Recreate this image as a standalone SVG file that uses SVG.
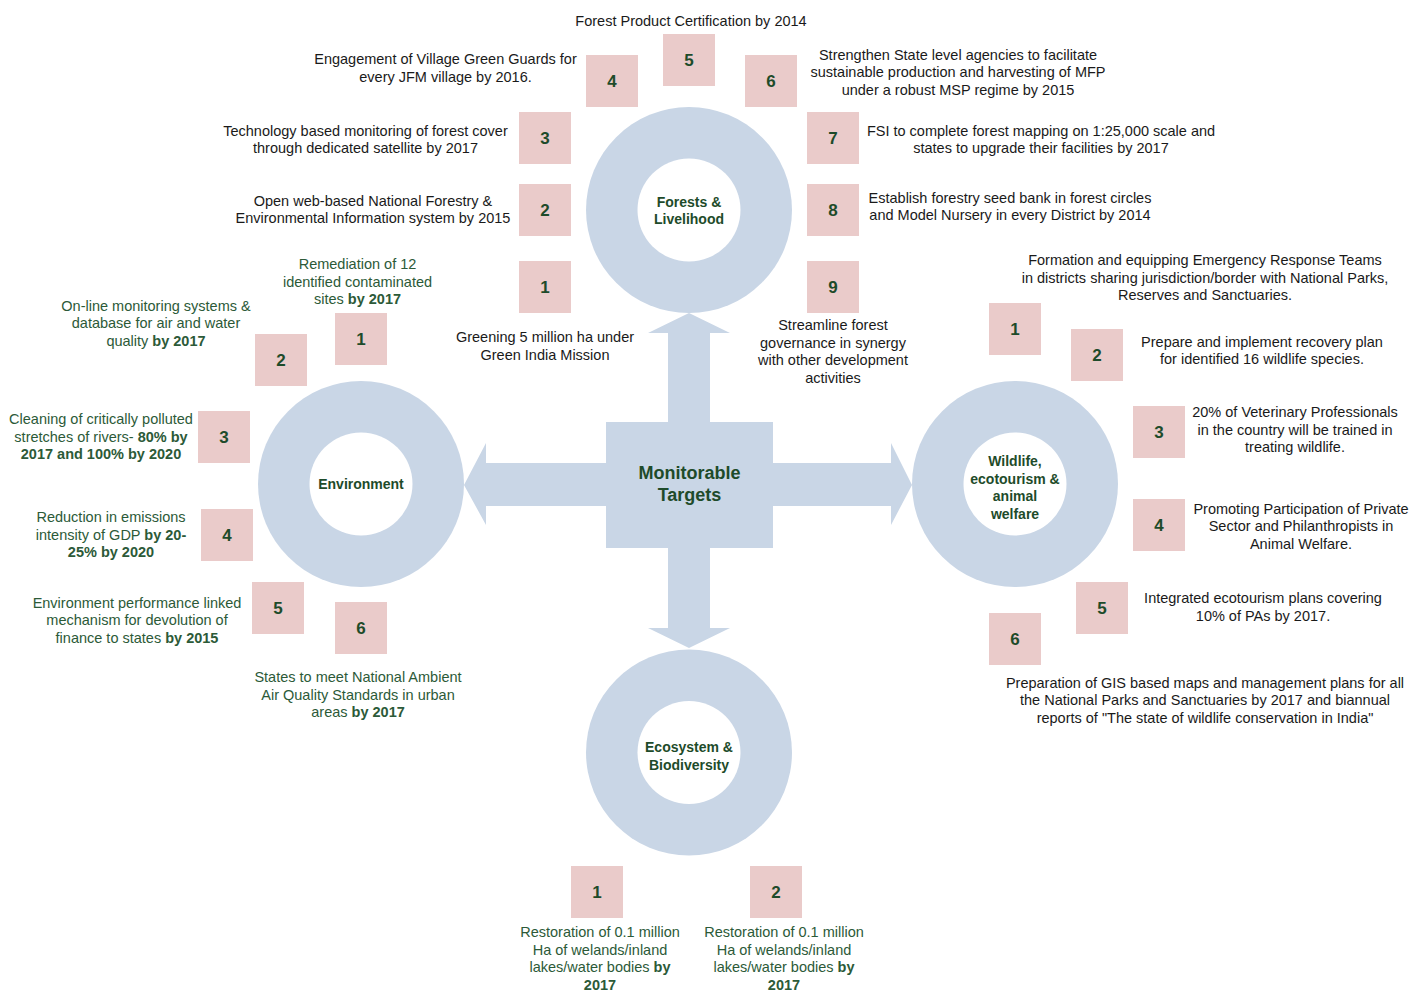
<svg xmlns="http://www.w3.org/2000/svg" width="1410" height="991" viewBox="0 0 1410 991">
<style>
text{font-family:"Liberation Sans",Arial,sans-serif;}
.t{font-size:14.5px;fill:#1a1a1a;text-anchor:middle;}
.g{font-size:14.5px;fill:#2c5a38;text-anchor:middle;}
.b{font-weight:bold;}
.lbl{font-size:14px;font-weight:bold;fill:#1e4b2a;text-anchor:middle;}
.num{font-size:17px;font-weight:bold;fill:#1e4b2a;text-anchor:middle;}
.box{fill:#eacbca;}
.ring{fill:#c9d6e6;}
.hole{fill:#ffffff;}
.arr{fill:#c9d6e6;}
</style>
<rect width="1410" height="991" fill="#ffffff"/>

<g id="connectors">
<polygon class="arr" points="668,422 668,333 648,333 689,313 730,333 710,333 710,422"/>
<polygon class="arr" points="668,548 668,628 648,628 689,648 730,628 710,628 710,548"/>
<polygon class="arr" points="773,463 891,463 891,443 912,485 891,525 891,506 773,506"/>
<polygon class="arr" points="606,463 486,463 486,443 464,485 486,525 486,506 606,506"/>
</g>

<g id="center">
<rect x="606" y="422" width="167" height="126" fill="#c9d6e6"/>
<text x="689.5" y="479" style="font-size:18px;font-weight:bold;fill:#1e4b2a;text-anchor:middle">Monitorable</text>
<text x="689.5" y="501" style="font-size:18px;font-weight:bold;fill:#1e4b2a;text-anchor:middle">Targets</text>
</g>

<g id="forests">
<circle class="ring" cx="689" cy="210" r="103"/>
<circle class="hole" cx="689" cy="210" r="51.5"/>
<text class="lbl" x="689" y="207">Forests &amp;</text>
<text class="lbl" x="689" y="224">Livelihood</text>
</g>
<g id="forest-targets">
<g id="f1"><rect class="box" x="519" y="261" width="52" height="52"/><text class="num" x="545" y="293">1</text>
<text class="t" x="545" y="342">Greening 5 million ha under</text><text class="t" x="545" y="360">Green India Mission</text></g>
<g id="f2"><rect class="box" x="519" y="184" width="52" height="52"/><text class="num" x="545" y="216">2</text>
<text class="t" x="373" y="206">Open web-based National Forestry &amp;</text><text class="t" x="373" y="223">Environmental Information system by 2015</text></g>
<g id="f3"><rect class="box" x="519" y="112" width="52" height="52"/><text class="num" x="545" y="144">3</text>
<text class="t" x="365.5" y="136">Technology based monitoring of forest cover</text><text class="t" x="365.5" y="153">through dedicated satellite by 2017</text></g>
<g id="f4"><rect class="box" x="586" y="55" width="52" height="52"/><text class="num" x="612" y="87">4</text>
<text class="t" x="445.5" y="64">Engagement of Village Green Guards for</text><text class="t" x="445.5" y="82">every JFM village by 2016.</text></g>
<g id="f5"><rect class="box" x="663" y="34" width="52" height="52"/><text class="num" x="689" y="66">5</text>
<text class="t" x="691" y="26">Forest Product Certification by 2014</text></g>
<g id="f6"><rect class="box" x="745" y="55" width="52" height="52"/><text class="num" x="771" y="87">6</text>
<text class="t" x="958" y="60">Strengthen State level agencies to facilitate</text><text class="t" x="958" y="77">sustainable production and harvesting of MFP</text><text class="t" x="958" y="95">under a robust MSP regime by 2015</text></g>
<g id="f7"><rect class="box" x="807" y="112" width="52" height="52"/><text class="num" x="833" y="144">7</text>
<text class="t" x="1041" y="136">FSI to complete forest mapping on 1:25,000 scale and</text><text class="t" x="1041" y="153">states to upgrade their facilities by 2017</text></g>
<g id="f8"><rect class="box" x="807" y="184" width="52" height="52"/><text class="num" x="833" y="216">8</text>
<text class="t" x="1010" y="203">Establish forestry seed bank in forest circles</text><text class="t" x="1010" y="220">and Model Nursery in every District by 2014</text></g>
<g id="f9"><rect class="box" x="807" y="261" width="52" height="52"/><text class="num" x="833" y="293">9</text>
<text class="t" x="833" y="330">Streamline forest</text><text class="t" x="833" y="348">governance in synergy</text><text class="t" x="833" y="365">with other development</text><text class="t" x="833" y="383">activities</text></g>
</g>

<g id="environment">
<circle class="ring" cx="361" cy="484" r="103"/>
<circle class="hole" cx="361" cy="484" r="51.5"/>
<text class="lbl" x="361" y="489">Environment</text>
</g>
<g id="env-targets">
<g id="e1"><rect class="box" x="335" y="313" width="52" height="52"/><text class="num" x="361" y="345">1</text>
<text class="g" x="357.5" y="269">Remediation of 12</text><text class="g" x="357.5" y="287">identified contaminated</text><text class="g" x="357.5" y="304">sites <tspan class="b">by 2017</tspan></text></g>
<g id="e2"><rect class="box" x="255" y="334" width="52" height="52"/><text class="num" x="281" y="366">2</text>
<text class="g" x="156" y="311">On-line monitoring systems &amp;</text><text class="g" x="156" y="328">database for air and water</text><text class="g" x="156" y="346">quality <tspan class="b">by 2017</tspan></text></g>
<g id="e3"><rect class="box" x="198" y="411" width="52" height="52"/><text class="num" x="224" y="443">3</text>
<text class="g" x="101" y="424">Cleaning of critically polluted</text><text class="g" x="101" y="442">stretches of rivers- <tspan class="b">80% by</tspan></text><text class="g b" x="101" y="459">2017 and 100% by 2020</text></g>
<g id="e4"><rect class="box" x="201" y="509" width="52" height="52"/><text class="num" x="227" y="541">4</text>
<text class="g" x="111" y="522">Reduction in emissions</text><text class="g" x="111" y="540">intensity of GDP <tspan class="b">by 20-</tspan></text><text class="g b" x="111" y="557">25% by 2020</text></g>
<g id="e5"><rect class="box" x="252" y="582" width="52" height="52"/><text class="num" x="278" y="614">5</text>
<text class="g" x="137" y="608">Environment performance linked</text><text class="g" x="137" y="625">mechanism for devolution of</text><text class="g" x="137" y="643">finance to states <tspan class="b">by 2015</tspan></text></g>
<g id="e6"><rect class="box" x="335" y="602" width="52" height="52"/><text class="num" x="361" y="634">6</text>
<text class="g" x="358" y="682">States to meet National Ambient</text><text class="g" x="358" y="700">Air Quality Standards in urban</text><text class="g" x="358" y="717">areas <tspan class="b">by 2017</tspan></text></g>
</g>

<g id="wildlife">
<circle class="ring" cx="1015" cy="484" r="103"/>
<circle class="hole" cx="1015" cy="484" r="51.5"/>
<text class="lbl" x="1015" y="466">Wildlife,</text>
<text class="lbl" x="1015" y="484">ecotourism &amp;</text>
<text class="lbl" x="1015" y="501">animal</text>
<text class="lbl" x="1015" y="519">welfare</text>
</g>
<g id="wildlife-targets">
<g id="w1"><rect class="box" x="989" y="303" width="52" height="52"/><text class="num" x="1015" y="335">1</text>
<text class="t" x="1205" y="265">Formation and equipping Emergency Response Teams</text><text class="t" x="1205" y="283">in districts sharing jurisdiction/border with National Parks,</text><text class="t" x="1205" y="300">Reserves and Sanctuaries.</text></g>
<g id="w2"><rect class="box" x="1071" y="329" width="52" height="52"/><text class="num" x="1097" y="361">2</text>
<text class="t" x="1262" y="347">Prepare and implement recovery plan</text><text class="t" x="1262" y="364">for identified 16 wildlife species.</text></g>
<g id="w3"><rect class="box" x="1133" y="406" width="52" height="52"/><text class="num" x="1159" y="438">3</text>
<text class="t" x="1295" y="417">20% of Veterinary Professionals</text><text class="t" x="1295" y="435">in the country will be trained in</text><text class="t" x="1295" y="452">treating wildlife.</text></g>
<g id="w4"><rect class="box" x="1133" y="499" width="52" height="52"/><text class="num" x="1159" y="531">4</text>
<text class="t" x="1301" y="514">Promoting Participation of Private</text><text class="t" x="1301" y="531">Sector and Philanthropists in</text><text class="t" x="1301" y="549">Animal Welfare.</text></g>
<g id="w5"><rect class="box" x="1076" y="582" width="52" height="52"/><text class="num" x="1102" y="614">5</text>
<text class="t" x="1263" y="603">Integrated ecotourism plans covering</text><text class="t" x="1263" y="621">10% of PAs by 2017.</text></g>
<g id="w6"><rect class="box" x="989" y="613" width="52" height="52"/><text class="num" x="1015" y="645">6</text>
<text class="t" x="1205" y="688">Preparation of GIS based maps and management plans for all</text><text class="t" x="1205" y="705">the National Parks and Sanctuaries by 2017 and biannual</text><text class="t" x="1205" y="723">reports of "The state of wildlife conservation in India"</text></g>
</g>

<g id="ecosystem">
<circle class="ring" cx="689" cy="752.5" r="103"/>
<circle class="hole" cx="689" cy="752.5" r="51.5"/>
<text class="lbl" x="689" y="752">Ecosystem &amp;</text>
<text class="lbl" x="689" y="770">Biodiversity</text>
</g>
<g id="eco-targets">
<g id="b1"><rect class="box" x="571" y="866" width="52" height="52"/><text class="num" x="597" y="898">1</text>
<text class="g" x="600" y="937">Restoration of 0.1 million</text><text class="g" x="600" y="955">Ha of welands/inland</text><text class="g" x="600" y="972">lakes/water bodies <tspan class="b">by</tspan></text><text class="g b" x="600" y="990">2017</text></g>
<g id="b2"><rect class="box" x="750" y="866" width="52" height="52"/><text class="num" x="776" y="898">2</text>
<text class="g" x="784" y="937">Restoration of 0.1 million</text><text class="g" x="784" y="955">Ha of welands/inland</text><text class="g" x="784" y="972">lakes/water bodies <tspan class="b">by</tspan></text><text class="g b" x="784" y="990">2017</text></g>
</g>
</svg>
